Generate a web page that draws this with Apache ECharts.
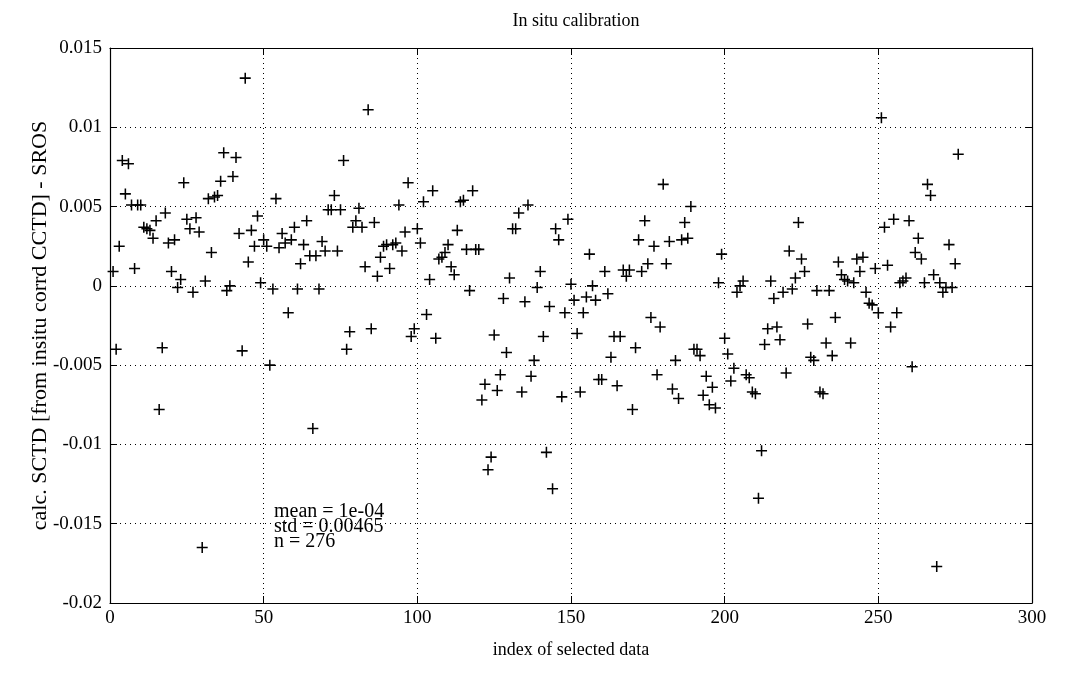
<!DOCTYPE html>
<html>
<head>
<meta charset="utf-8">
<script src="https://cdn.jsdelivr.net/npm/echarts@6/dist/echarts.min.js"></script>
<style>html,body{margin:0;padding:0;background:#fff}#c{width:1071px;height:685px}</style>
</head>
<body>
<div id="c"></div>
<script>
var titleText = 'In situ calibration';
var xName = 'index of selected data';
var yName = 'calc. SCTD [from insitu corrd CCTD] - SROS';
var xTicks = [0, 50, 100, 150, 200, 250, 300];
var yTickLabels = ['-0.02', '-0.015', '-0.01', '-0.005', '0', '0.005', '0.01', '0.015'];
var statsLines = ['mean = 1e-04', 'std = 0.00465', 'n = 276'];
var residuals = [
 0.0009,-0.0040,0.0025,0.0079,0.0058,0.0077,0.0051,0.0011,0.0051,0.0051,0.0037,0.0036,0.0035,0.0030,0.0041,-0.0078,-0.0039,0.0046,0.0027,0.0009,0.0029,-0.0001,0.0004,
 0.0065,0.0042,0.0036,-0.0004,0.0043,0.0034,-0.0165,0.0003,0.0055,0.0021,0.0056,0.0057,0.0066,0.0084,-0.0003,0.0000,0.0069,0.0081,0.0033,-0.0041,0.0131,0.0015,0.0035,0.0025,0.0044,0.0002,
 0.0029,0.0025,-0.0050,-0.0002,0.0055,0.0024,0.0033,0.0027,-0.0017,0.0029,0.0037,-0.0002,0.0014,0.0026,0.0041,0.0019,-0.0090,0.0019,-0.0002,0.0028,0.0022,0.0048,0.0048,
 0.0057,0.0022,0.0048,0.0079,-0.0040,-0.0029,0.0037,0.0041,0.0049,0.0037,0.0012,0.0111,-0.0027,0.0040,0.0006,0.0018,0.0025,0.0026,0.0011,0.0026,0.0027,0.0051,0.0022,0.0034,0.0065,-0.0032,-0.0027,
 0.0036,0.0027,0.0053,-0.0018,0.0004,0.0060,-0.0033,0.0017,0.0018,0.0021,0.0026,0.0012,0.0007,0.0035,0.0053,0.0054,0.0023,-0.0003,0.0060,0.0023,0.0023,-0.0072,-0.0062,-0.0116,-0.0108,
 -0.0031,-0.0066,-0.0056,-0.0008,-0.0042,0.0005,0.0036,0.0036,0.0046,-0.0067,-0.0010,0.0051,-0.0057,-0.0047,-0.0001,0.0009,-0.0032,-0.0105,-0.0013,-0.0128,0.0036,0.0029,-0.0070,
 -0.0017,0.0042,0.0001,-0.0009,-0.0030,-0.0067,-0.0017,-0.0007,0.0020,0.0000,-0.0009,-0.0059,-0.0059,0.0009,-0.0005,-0.0045,-0.0032,-0.0063,-0.0032,0.0010,0.0006,0.0010,-0.0078,-0.0039,
 0.0029,0.0009,0.0041,0.0014,-0.0020,0.0025,-0.0056,-0.0026,0.0064,0.0014,0.0028,-0.0065,-0.0047,-0.0071,0.0029,0.0040,0.0030,0.0050,-0.0040,-0.0040,-0.0044,-0.0069,-0.0057,-0.0075,-0.0064,-0.0077,
 0.0002,0.0020,-0.0033,-0.0043,-0.0060,-0.0052,-0.0004,0.0000,0.0003,-0.0056,-0.0058,-0.0067,-0.0068,-0.0134,-0.0104,-0.0037,-0.0027,0.0003,-0.0008,-0.0026,-0.0034,-0.0004,-0.0055,0.0022,
 -0.0002,0.0005,0.0040,0.0017,0.0009,-0.0024,-0.0045,-0.0047,-0.0003,-0.0067,-0.0068,-0.0036,-0.0003,-0.0044,-0.0020,0.0015,0.0007,0.0004,0.0003,-0.0036,0.0002,0.0017,0.0009,0.0018,-0.0004,
 -0.0011,-0.0012,0.0011,-0.0017,0.0106,0.0037,0.0013,-0.0026,0.0042,-0.0017,0.0002,0.0003,0.0005,0.0041,-0.0051,0.0021,0.0030,0.0017,0.0002,0.0064,0.0057,0.0007,-0.0177,0.0002,
 -0.0004,-0.0001,0.0026,-0.0001,0.0014,0.0083
];

var points = residuals.map(function (v, i) { return [i + 1, v]; });
var serif = 'Liberation Serif';
var chart = echarts.init(document.getElementById('c'), null, {renderer: 'canvas'});
function yLabel(v) {
  var idx = Math.round((v + 0.02) / 0.005);
  return yTickLabels[idx] !== undefined ? yTickLabels[idx] : '';
}
var gridTop = 48, gridBottom = 82;
var graphics = statsLines.map(function (t, i) {
  return {
    type: 'text', left: 274, top: 502 + i * 15, z: 10,
    style: {text: t, fontFamily: serif, fontSize: 20, fill: '#000'}
  };
});
graphics.push({
  type: 'text', x: 40, y: (gridTop + (685 - gridBottom)) / 2, rotation: Math.PI / 2, z: 10,
  style: {text: yName, fontFamily: serif, fontSize: 22, fill: '#000', align: 'center', verticalAlign: 'middle'}
});
chart.setOption({
  animation: false,
  backgroundColor: '#fff',
  title: {
    text: titleText, left: 571, top: 7, textAlign: 'center',
    textStyle: {fontFamily: serif, fontSize: 18, fontWeight: 'normal', color: '#000'}
  },
  grid: {left: 110, right: 39, top: gridTop, bottom: gridBottom},
  xAxis: [{
    type: 'value', min: xTicks[0], max: xTicks[xTicks.length - 1], interval: 50, position: 'bottom',
    name: xName, nameLocation: 'middle', nameGap: 38,
    nameTextStyle: {fontFamily: serif, fontSize: 18, color: '#000'},
    axisLine: {show: true, onZero: false, lineStyle: {color: '#000', width: 1.2}},
    axisTick: {show: true, inside: true, length: 7, lineStyle: {color: '#000'}},
    axisLabel: {fontFamily: serif, fontSize: 19, color: '#000', margin: 6},
    splitLine: {show: true, lineStyle: {type: [1, 4], color: '#000', width: 1}}
  }, {
    type: 'value', min: xTicks[0], max: xTicks[xTicks.length - 1], interval: 50, position: 'top',
    axisLine: {show: true, onZero: false, lineStyle: {color: '#000', width: 1.2}},
    axisTick: {show: true, inside: true, length: 7, lineStyle: {color: '#000'}},
    axisLabel: {show: false}, splitLine: {show: false}
  }],
  yAxis: [{
    type: 'value', min: -0.02, max: 0.015, interval: 0.005, position: 'left',
    axisLine: {show: true, onZero: false, lineStyle: {color: '#000', width: 1.2}},
    axisTick: {show: true, inside: true, length: 7, lineStyle: {color: '#000'}},
    axisLabel: {fontFamily: serif, fontSize: 19, color: '#000', margin: 8, formatter: yLabel},
    splitLine: {show: true, lineStyle: {type: [1, 4], color: '#000', width: 1}}
  }, {
    type: 'value', min: -0.02, max: 0.015, interval: 0.005, position: 'right',
    axisLine: {show: true, onZero: false, lineStyle: {color: '#000', width: 1.2}},
    axisTick: {show: true, inside: true, length: 7, lineStyle: {color: '#000'}},
    axisLabel: {show: false}, splitLine: {show: false}
  }],
  graphic: graphics,
  series: [{
    type: 'scatter', xAxisIndex: 0, yAxisIndex: 0,
    data: points,
    symbol: 'path://M4.3,0H5.7V4.3H10V5.7H5.7V10H4.3V5.7H0V4.3H4.3Z',
    symbolSize: 11,
    itemStyle: {color: '#000', opacity: 1},
    silent: true
  }]
});
</script>
</body>
</html>
